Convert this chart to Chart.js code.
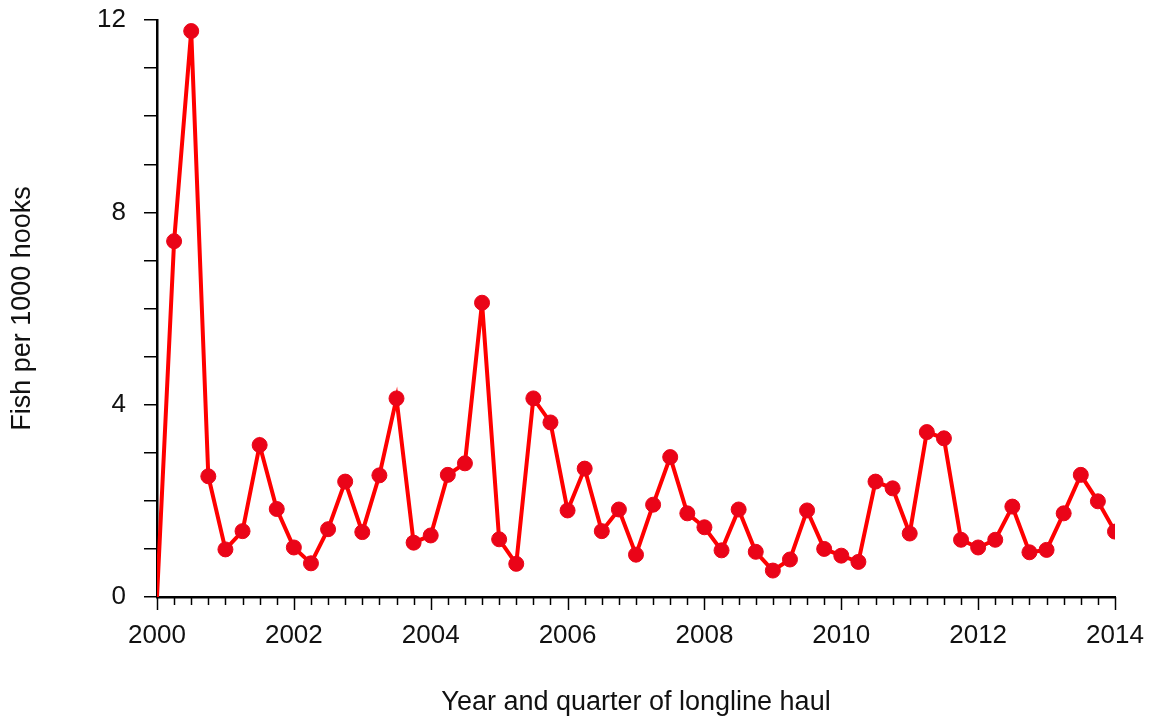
<!DOCTYPE html>
<html>
<head>
<meta charset="utf-8">
<title>Fish per 1000 hooks</title>
<script src="https://cdn.jsdelivr.net/npm/chart.js@4.4.1/dist/chart.umd.min.js"></script>
<style>
  body { margin: 0; background: #ffffff; }
  #catch-chart { display: block; }
</style>
</head>
<body>
<canvas id="catch-chart" width="1154" height="719"></canvas>
<script>
// quarter of haul (year + quarter fraction)
var quarterTimes = [
    2000.00, 2000.25, 2000.50, 2000.75,
    2001.00, 2001.25, 2001.50, 2001.75,
    2002.00, 2002.25, 2002.50, 2002.75,
    2003.00, 2003.25, 2003.50, 2003.75,
    2004.00, 2004.25, 2004.50, 2004.75,
    2005.00, 2005.25, 2005.50, 2005.75,
    2006.00, 2006.25, 2006.50, 2006.75,
    2007.00, 2007.25, 2007.50, 2007.75,
    2008.00, 2008.25, 2008.50, 2008.75,
    2009.00, 2009.25, 2009.50, 2009.75,
    2010.00, 2010.25, 2010.50, 2010.75,
    2011.00, 2011.25, 2011.50, 2011.75,
    2012.00, 2012.25, 2012.50, 2012.75,
    2013.00, 2013.25, 2013.50, 2013.75,
    2014.00
];
// fish per 1000 hooks
var catchRates = [
    0.00, 7.40, 11.77, 2.51,
    0.99, 1.37, 3.16, 1.83,
    1.03, 0.70, 1.41, 2.40,
    1.35, 2.53, 4.13, 1.13,
    1.28, 2.54, 2.78, 6.12,
    1.20, 0.69, 4.13, 3.63,
    1.80, 2.67, 1.37, 1.82,
    0.88, 1.92, 2.91, 1.74,
    1.45, 0.97, 1.82, 0.94,
    0.55, 0.78, 1.80, 1.00,
    0.86, 0.73, 2.40, 2.26,
    1.32, 3.43, 3.30, 1.19,
    1.03, 1.19, 1.88, 0.93,
    0.98, 1.74, 2.54, 1.99,
    1.36
];
var xLabelYears = [2000, 2002, 2004, 2006, 2008, 2010, 2012, 2014];
var yLabelValues = [0, 4, 8, 12];

var main = function () {
    "use strict";
    var points = [];
    for (var i = 0; i < quarterTimes.length; i++) {
        points.push({x: quarterTimes[i], y: catchRates[i]});
    }
    var tickFont = {family: "'Liberation Sans', Arial, sans-serif", size: 26};
    var titleFont = {family: "'Liberation Sans', Arial, sans-serif", size: 27};

    //Quarter tick marks under the x axis (long at labelled years)
    var quarterTicks = {
        id: "quarterTicks",
        afterDraw: function (chart) {
            var ctx = chart.ctx;
            var xs = chart.scales.x;
            var base = chart.chartArea.bottom;
            ctx.save();
            ctx.strokeStyle = "#000";
            ctx.lineWidth = 1.5;
            xs.ticks.forEach(function (t) {
                var px = Math.round(xs.getPixelForValue(t.value)) + 0.5;
                var len = xLabelYears.indexOf(t.value) >= 0 ? 13 : 8;
                ctx.beginPath();
                ctx.moveTo(px, base);
                ctx.lineTo(px, base + len);
                ctx.stroke();
            });
            ctx.restore();
        }
    };

    //Chart Part
    var chart = new Chart("catch-chart", {
        type: "line",
        data: {
            datasets: [{
                data: points,
                borderColor: "#ff0000",
                borderWidth: 4,
                pointBackgroundColor: "#ea0418",
                pointBorderColor: "#ea0418",
                pointBorderWidth: 1,
                pointRadius: function (c) { return c.dataIndex === 0 ? 0 : 7.5; },
                tension: 0
            }]
        },
        options: {
            responsive: false,
            animation: false,
            events: [],
            layout: {padding: {top: 20, right: 39, left: 0, bottom: 0}},
            plugins: {legend: {display: false}, title: {display: false}, tooltip: {enabled: false}},
            scales: {
                x: {
                    type: "linear",
                    min: 2000,
                    max: 2014,
                    grid: {display: true, drawOnChartArea: false, drawTicks: false},
                    border: {display: true, color: "#000", width: 2.5},
                    ticks: {
                        stepSize: 0.25,
                        autoSkip: false,
                        maxRotation: 0,
                        padding: 23,
                        color: "#111",
                        font: tickFont,
                        callback: function (v) {
                            return xLabelYears.indexOf(v) >= 0 ? String(v) : "";
                        }
                    },
                    title: {
                        display: true,
                        text: "Year and quarter of longline haul",
                        color: "#111",
                        font: titleFont,
                        padding: {top: 0, bottom: 0}
                    },
                    afterFit: function (scale) {
                        scale.height = 122;
                        scale.paddingLeft = 0;
                        scale.paddingRight = 0;
                    }
                },
                y: {
                    min: 0,
                    max: 12,
                    grid: {drawOnChartArea: false, drawTicks: true, tickLength: 13, color: "#000", lineWidth: 1.5},
                    border: {display: true, color: "#000", width: 2.5},
                    ticks: {
                        stepSize: 1,
                        autoSkip: false,
                        padding: 18,
                        color: "#111",
                        font: tickFont,
                        callback: function (v) {
                            return yLabelValues.indexOf(v) >= 0 ? String(v) : "";
                        }
                    },
                    title: {
                        display: true,
                        text: "Fish per 1000 hooks",
                        color: "#111",
                        font: titleFont,
                        padding: {top: 6, bottom: 0}
                    },
                    afterFit: function (scale) {
                        scale.width = 157;
                        scale.paddingTop = 0;
                        scale.paddingBottom = 0;
                    }
                }
            }
        },
        plugins: [quarterTicks]
    });
};

main();
</script>
</body>
</html>
